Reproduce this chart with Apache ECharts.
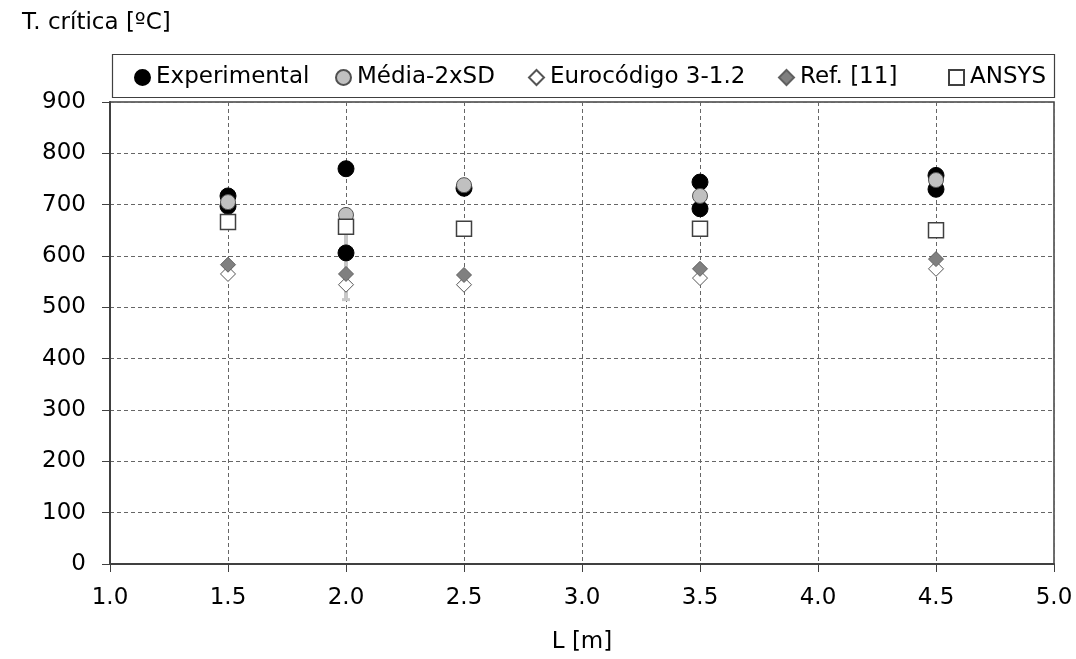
<!DOCTYPE html>
<html>
<head>
<meta charset="utf-8">
<script src="https://cdn.jsdelivr.net/npm/echarts@6/dist/echarts.min.js"></script>
<style>html,body{margin:0;padding:0;background:#fff}#c{width:1076px;height:659px}</style>
</head>
<body>
<div id="c"></div>
<script>
// ---- data ----
const seriesNames = ['Experimental', 'Média-2xSD', 'Eurocódigo 3-1.2', 'Ref. [11]', 'ANSYS'];
const experimental = [[1.5, 717], [1.5, 697], [2.0, 770], [2.0, 606], [2.5, 732], [3.5, 744], [3.5, 692], [4.5, 757], [4.5, 730]];
const media2sd = [[1.5, 705], [2.0, 680], [2.5, 738], [3.5, 717], [4.5, 748]];
const eurocodigo = [[1.5, 565], [2.0, 544], [2.5, 544], [3.5, 557], [4.5, 575]];
const ref11 = [[1.5, 583], [2.0, 565], [2.5, 563], [3.5, 575], [4.5, 594]];
const ansys = [[1.5, 666], [2.0, 657], [2.5, 653], [3.5, 653], [4.5, 650]];
const errorBar = [[2.0, 660, 515]]; // x, upper, lower
const yTitle = 'T. crítica [ºC]';
const xTitle = 'L [m]';

const FONT = 'DejaVu Sans';
const chart = echarts.init(document.getElementById('c'));

const legendLefts = [134, 335, 528, 778, 948];
const legends = seriesNames.map((n, i) => ({
  data: [n], left: legendLefts[i], top: 66, padding: 0,
  itemWidth: 15, itemHeight: 15, itemGap: 0,
  selectedMode: false,
  textStyle: { fontFamily: FONT, fontSize: 23, color: '#000', padding: [0, 0, 0, 1] }
}));

chart.setOption({
  animation: false,
  backgroundColor: '#fff',
  textStyle: { fontFamily: FONT },
  grid: { left: 110, right: 22, top: 102, bottom: 95, show: true, borderColor: '#404040', borderWidth: 1.5, backgroundColor: 'transparent' },
  legend: legends,
  graphic: [
    { type: 'rect', left: 110, top: 52, shape: { width: 942, height: 43 }, style: { fill: 'none', stroke: '#404040', lineWidth: 1.2 }, z: -1 },
    { type: 'text', left: 22, top: 12, style: { text: yTitle, font: '23px "DejaVu Sans"', fill: '#000' } }
  ],
  xAxis: {
    type: 'value', min: 1, max: 5, interval: 0.5,
    name: xTitle, nameLocation: 'middle', nameGap: 67,
    nameTextStyle: { fontFamily: FONT, fontSize: 23, color: '#000' },
    axisLine: { onZero: false, lineStyle: { color: '#404040', width: 2 } },
    axisTick: { show: true, length: 8, lineStyle: { color: '#404040', width: 1 } },
    axisLabel: { margin: 23, fontFamily: FONT, fontSize: 23, color: '#000', formatter: v => v.toFixed(1) },
    splitLine: { show: true, lineStyle: { color: '#666', type: [4, 3], width: 1 } }
  },
  yAxis: {
    type: 'value', min: 0, max: 900, interval: 100,
    axisLine: { show: true, onZero: false, lineStyle: { color: '#404040', width: 2 } },
    axisTick: { show: true, length: 8, lineStyle: { color: '#404040', width: 1 } },
    axisLabel: { margin: 24, fontFamily: FONT, fontSize: 23, color: '#000' },
    splitLine: { show: true, lineStyle: { color: '#666', type: [4, 3], width: 1 } }
  },
  series: [
    {
      type: 'custom', name: 'err', z: 1, silent: true,
      data: errorBar,
      renderItem: function (params, api) {
        const top = api.coord([api.value(0), api.value(1)]);
        const bot = api.coord([api.value(0), api.value(2)]);
        return {
          type: 'group', children: [
            { type: 'line', shape: { x1: top[0], y1: top[1], x2: bot[0], y2: bot[1] }, style: { stroke: '#c8c8c8', lineWidth: 4 } },
            { type: 'line', shape: { x1: bot[0] - 4, y1: bot[1], x2: bot[0] + 4, y2: bot[1] }, style: { stroke: '#c8c8c8', lineWidth: 3 } }
          ]
        };
      }
    },
    { type: 'scatter', name: seriesNames[0], data: experimental, symbol: 'circle', symbolSize: 16, z: 2,
      itemStyle: { color: '#000', borderColor: '#000', borderWidth: 1, opacity: 1 } },
    { type: 'scatter', name: seriesNames[1], data: media2sd, symbol: 'circle', symbolSize: 15, z: 3,
      itemStyle: { color: '#c0c0c0', borderColor: '#505050', borderWidth: 1, opacity: 1 } },
    { type: 'scatter', name: seriesNames[2], data: eurocodigo, symbol: 'diamond', symbolSize: 15, z: 4,
      itemStyle: { color: '#fff', borderColor: '#555', borderWidth: 1, opacity: 1 } },
    { type: 'scatter', name: seriesNames[3], data: ref11, symbol: 'diamond', symbolSize: 15, z: 5,
      itemStyle: { color: '#808080', borderColor: '#606060', borderWidth: 1, opacity: 1 } },
    { type: 'scatter', name: seriesNames[4], data: ansys, symbol: 'rect', symbolSize: 15, z: 6,
      itemStyle: { color: '#fff', borderColor: '#404040', borderWidth: 1.5, opacity: 1 } }
  ]
});
</script>
</body>
</html>
